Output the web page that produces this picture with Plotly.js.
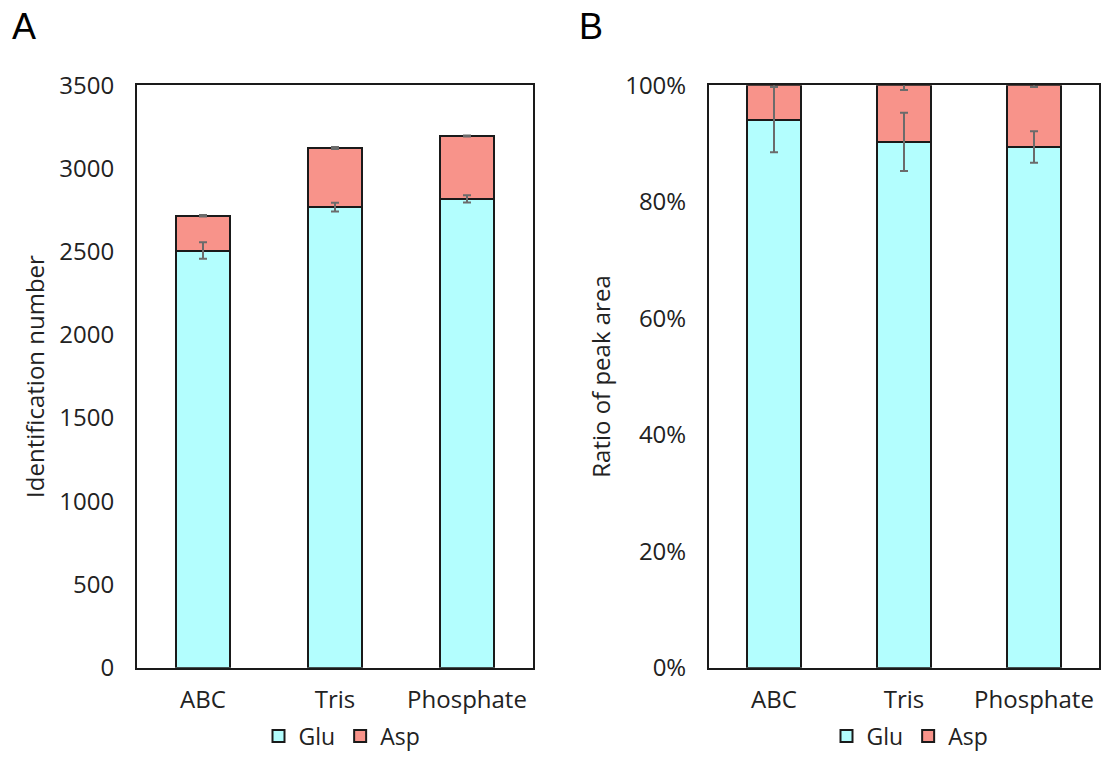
<!DOCTYPE html>
<html>
<head>
<meta charset="utf-8">
<script src="https://cdn.plot.ly/plotly-3.0.1.min.js"></script>
<style>html,body{margin:0;padding:0;background:#fff;}#chart{width:1104px;height:758px;}</style>
</head>
<body>
<div id="chart"></div>
<script>
const categories = ['ABC', 'Tris', 'Phosphate'];
const seriesNames = ['Glu', 'Asp'];
const gluCount = [2507, 2768, 2818];
const aspCount = [209, 355, 377];
const gluCountErr = [50, 26, 22];
const aspCountErr = [4, 6, 3];
const gluRatio = [94.1, 90.3, 89.4];
const aspRatio = [5.9, 9.7, 10.6];
const gluRatioErr = [5.6, 5.0, 2.7];
const aspRatioErr = [0.3, 0.8, 0.3];
const countTicks = [0, 500, 1000, 1500, 2000, 2500, 3000, 3500];
const ratioTicks = [0, 20, 40, 60, 80, 100];
const ratioTickText = ['0%', '20%', '40%', '60%', '80%', '100%'];

const gluColor = '#B3FEFE';
const aspColor = '#F8938A';
const edge = '#1a1a1a';
const errColor = '#6b6b6b';
const font = 'Open Sans, Noto Sans, sans-serif';
const fs = 24;
const barW = 0.41;

function bar(name, y, color, xa, ya, leg) {
  return {
    type: 'bar', name: name, x: categories, y: y,
    xaxis: xa, yaxis: ya, legend: leg, showlegend: true,
    width: barW,
    marker: {color: color, line: {color: edge, width: 2}}
  };
}
function errs(base, add, err, xa, ya) {
  const y = base.map((v, i) => v + (add ? add[i] : 0));
  return {
    type: 'scatter', mode: 'markers', x: categories, y: y,
    xaxis: xa, yaxis: ya, showlegend: false, hoverinfo: 'skip',
    marker: {size: 1, opacity: 0},
    error_y: {type: 'data', array: err, visible: true, color: errColor, thickness: 2, width: 4}
  };
}

const data = [
  bar(seriesNames[0], gluCount, gluColor, 'x', 'y', 'legend'),
  bar(seriesNames[1], aspCount, aspColor, 'x', 'y', 'legend'),
  bar(seriesNames[0], gluRatio, gluColor, 'x2', 'y2', 'legend2'),
  bar(seriesNames[1], aspRatio, aspColor, 'x2', 'y2', 'legend2'),
  errs(gluCount, null, gluCountErr, 'x', 'y'),
  errs(gluCount, aspCount, aspCountErr, 'x', 'y'),
  errs(gluRatio, null, gluRatioErr, 'x2', 'y2'),
  errs(gluRatio, aspRatio, aspRatioErr, 'x2', 'y2')
];

const yDom = [(758 - 673) / 758, (758 - 86) / 758];
const axisCommon = {
  showline: true, mirror: true, linecolor: edge, linewidth: 2,
  showgrid: false, zeroline: false, ticks: '',
  tickfont: {family: font, size: fs, color: '#222'}
};

const layout = {
  width: 1104, height: 758,
  margin: {l: 0, r: 0, t: 0, b: 0},
  paper_bgcolor: '#fff', plot_bgcolor: '#fff',
  barmode: 'stack',
  font: {family: font, color: '#222'},
  xaxis: Object.assign({}, axisCommon, {domain: [137 / 1104, 533 / 1104], anchor: 'y', ticklabelstandoff: 10, automargin: false}),
  yaxis: Object.assign({}, axisCommon, {
    domain: yDom, anchor: 'x', range: [0, 3500], tickvals: countTicks,
    ticklabelstandoff: 16, automargin: false,
    title: {text: 'Identification number', font: {family: font, size: fs, color: '#222'}, standoff: 8}
  }),
  xaxis2: Object.assign({}, axisCommon, {domain: [709 / 1104, 1099 / 1104], anchor: 'y2', ticklabelstandoff: 10, automargin: false}),
  yaxis2: Object.assign({}, axisCommon, {
    domain: yDom, anchor: 'x2', range: [0, 100], tickvals: ratioTicks, ticktext: ratioTickText,
    ticklabelstandoff: 16, automargin: false,
    title: {text: 'Ratio of peak area', font: {family: font, size: fs, color: '#222'}, standoff: 8}
  }),
  legend: {
    orientation: 'h', x: 342 / 1104, y: 16 / 758, xanchor: 'center', yanchor: 'middle',
    font: {family: font, size: 23, color: '#222'}, traceorder: 'normal', itemwidth: 30
  },
  legend2: {
    orientation: 'h', x: 910 / 1104, y: 16 / 758, xanchor: 'center', yanchor: 'middle',
    font: {family: font, size: 23, color: '#222'}, traceorder: 'normal', itemwidth: 30
  },
  annotations: [
    {text: 'A', xref: 'paper', yref: 'paper', x: 10 / 1104, y: 1 - 27 / 758, xanchor: 'left', yanchor: 'middle', showarrow: false, font: {family: 'Liberation Sans, Arial, sans-serif', size: 36, color: '#000'}},
    {text: 'B', xref: 'paper', yref: 'paper', x: 577 / 1104, y: 1 - 27 / 758, xanchor: 'left', yanchor: 'middle', showarrow: false, font: {family: 'Liberation Sans, Arial, sans-serif', size: 36, color: '#000'}}
  ]
};

Plotly.newPlot('chart', data, layout, {displayModeBar: false, staticPlot: true});
</script>
</body>
</html>
